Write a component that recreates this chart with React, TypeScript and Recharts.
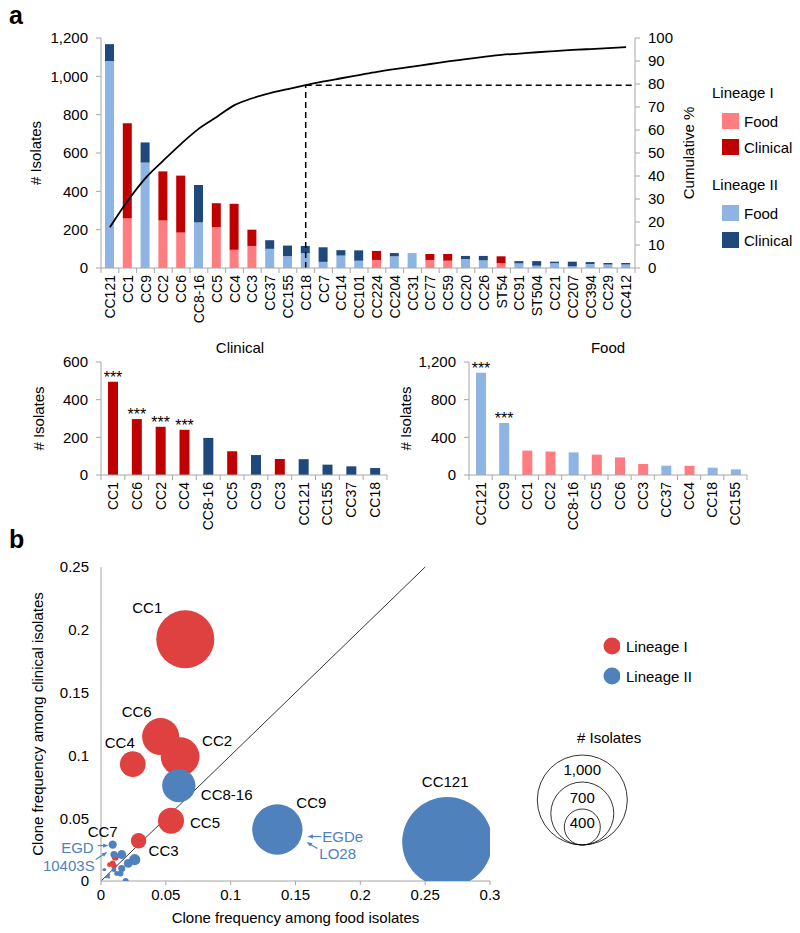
import React from 'react';
import {
  ComposedChart,
  BarChart,
  ScatterChart,
  Bar,
  Line,
  Scatter,
  XAxis,
  YAxis,
  ZAxis,
  Cell,
  LabelList,
  ReferenceLine,
} from 'recharts';

const FONT = '"Liberation Sans", Arial, sans-serif';
const AXIS = '#a6a6a6';
const RED_FOOD = '#ff7c80';
const RED_CLIN = '#c00000';
const BLUE_FOOD = '#8db4e2';
const BLUE_CLIN = '#1f497d';
const RED_BUBBLE = '#df4040';
const BLUE_BUBBLE = '#4f81bd';

// panel a, top: all clonal complexes
const ccNames = [
  'CC121', 'CC1', 'CC9', 'CC2', 'CC6', 'CC8-16', 'CC5', 'CC4', 'CC3', 'CC37',
  'CC155', 'CC18', 'CC7', 'CC14', 'CC101', 'CC224', 'CC204', 'CC31', 'CC77', 'CC59',
  'CC20', 'CC26', 'ST54', 'CC91', 'ST504', 'CC21', 'CC207', 'CC394', 'CC29', 'CC412',
];
const ccLineage = [2, 1, 2, 1, 1, 2, 1, 1, 1, 2, 2, 2, 2, 2, 2, 1, 2, 2, 1, 1, 2, 2, 1, 2, 2, 2, 2, 2, 2, 2];
const foodCounts = [1080, 260, 550, 248, 185, 238, 213, 95, 115, 100, 62, 78, 32, 65, 38, 42, 61, 78, 42, 38, 47, 40, 26, 24, 12, 25, 9, 21, 18, 18];
const clinicalCounts = [88, 495, 105, 256, 297, 195, 125, 240, 85, 45, 55, 37, 76, 28, 54, 47, 17, 0, 31, 35, 16, 23, 35, 12, 24, 8, 24, 10, 8, 8];
const cumulativePct = [
  17.7, 29.2, 39.1, 46.7, 54.0, 60.6, 65.7, 70.8, 73.8, 76.0,
  77.8, 79.5, 81.1, 82.5, 83.9, 85.3, 86.5, 87.6, 88.7, 89.8,
  90.8, 91.8, 92.7, 93.2, 93.8, 94.3, 94.8, 95.2, 95.6, 96.0,
];
const countTicks = [0, 200, 400, 600, 800, 1000, 1200];
const pctTicks = [0, 10, 20, 30, 40, 50, 60, 70, 80, 90, 100];

// panel a, bottom: top 12 per source
const clinicalTop = ['CC1', 'CC6', 'CC2', 'CC4', 'CC8-16', 'CC5', 'CC9', 'CC3', 'CC121', 'CC155', 'CC37', 'CC18'];
const clinicalTopLineage = [1, 1, 1, 1, 2, 1, 2, 1, 2, 2, 2, 2];
const clinicalTopCounts = [495, 297, 256, 240, 197, 126, 106, 85, 84, 55, 46, 37];
const clinicalTopSig = [true, true, true, true, false, false, false, false, false, false, false, false];
const clinicalTicks = [0, 100, 200, 300, 400, 500, 600];

const foodTop = ['CC121', 'CC9', 'CC1', 'CC2', 'CC8-16', 'CC5', 'CC6', 'CC3', 'CC37', 'CC4', 'CC18', 'CC155'];
const foodTopLineage = [2, 2, 1, 1, 2, 1, 1, 1, 2, 1, 2, 2];
const foodTopCounts = [1085, 552, 259, 249, 240, 216, 187, 116, 99, 97, 78, 60];
const foodTopSig = [true, true, false, false, false, false, false, false, false, false, false, false];

// panel b: clone frequency bubbles
const bubbleNames = [
  'CC1', 'CC6', 'CC2', 'CC4', 'CC5', 'CC3', 'CC224', 'CC77', 'CC59', 'ST54',
  'CC121', 'CC9', 'CC8-16', 'CC7', 'CC155', 'CC37', 'CC18', 'CC14', 'CC101', 'CC204',
  'CC31', 'CC20', 'CC26', 'CC91', 'ST504', 'CC21', 'CC207', 'CC394', 'CC29', 'CC412',
];
const bubbleLineage = [1, 1, 1, 1, 1, 1, 1, 1, 1, 1, 2, 2, 2, 2, 2, 2, 2, 2, 2, 2, 2, 2, 2, 2, 2, 2, 2, 2, 2, 2];
const bubbleFoodFreq = [
  0.065, 0.046, 0.061, 0.0245, 0.054, 0.029, 0.011, 0.010, 0.009, 0.0065,
  0.267, 0.136, 0.060, 0.009, 0.016, 0.026, 0.021, 0.016, 0.010, 0.015,
  0.019, 0.012, 0.010, 0.006, 0.003, 0.006, 0.002, 0.005, 0.004, 0.004,
];
const bubbleClinicalFreq = [
  0.1925, 0.115, 0.099, 0.093, 0.048, 0.032, 0.019, 0.012, 0.014, 0.013,
  0.031, 0.041, 0.076, 0.029, 0.021, 0.017, 0.014, 0.010, 0.021, 0.006,
  0.000, 0.006, 0.009, 0.005, 0.009, 0.003, 0.009, 0.004, 0.003, 0.003,
];
const bubbleIsolates = [
  755, 482, 503, 334, 339, 200, 89, 73, 73, 61,
  1170, 654, 433, 108, 117, 145, 115, 92, 92, 78,
  78, 63, 63, 36, 36, 33, 33, 31, 26, 26,
];
const freqXTicks = [0, 0.05, 0.1, 0.15, 0.2, 0.25, 0.3];
const freqYTicks = [0, 0.05, 0.1, 0.15, 0.2, 0.25];
const sizeLegend = [1000, 700, 400];

// bubble diameter in px per 1000 isolates
const DIAM_PER_1000 = 90;

// top chart layout
const TOP_W = 800;
const TOP_MARGIN = { top: 38, right: 105, bottom: 0, left: 41 };
const TOP_YAXIS_W = 60;
const TOP_PLOT_RIGHT = TOP_W - TOP_MARGIN.right - TOP_YAXIS_W;

// scatter layout
const SC_W = 500;
const SC_H = 383;
const SC_MARGIN = { top: 17, right: 10, bottom: 0, left: 41 };
const SC_YAXIS_W = 60;
const SC_XAXIS_H = 52;
const SC_PLOT = {
  x: SC_MARGIN.left + SC_YAXIS_W,
  y: SC_MARGIN.top,
  w: SC_W - SC_MARGIN.left - SC_YAXIS_W - SC_MARGIN.right,
  h: SC_H - SC_MARGIN.top - SC_XAXIS_H - SC_MARGIN.bottom,
};

const topData = ccNames.map((name, i) => ({
  name,
  lineage: ccLineage[i],
  food: foodCounts[i],
  clinical: clinicalCounts[i],
  cum: cumulativePct[i],
}));
const clinicalData = clinicalTop.map((name, i) => ({
  name, lineage: clinicalTopLineage[i], value: clinicalTopCounts[i], sig: clinicalTopSig[i],
}));
const foodData = foodTop.map((name, i) => ({
  name, lineage: foodTopLineage[i], value: foodTopCounts[i], sig: foodTopSig[i],
}));
const bubbles = bubbleNames.map((name, i) => ({
  name, lineage: bubbleLineage[i], x: bubbleFoodFreq[i], y: bubbleClinicalFreq[i], n: bubbleIsolates[i],
}));
const cutIndex = ccNames.indexOf('CC18');

const fmt = (v: number) => v.toLocaleString('en-US');

const CategoryTick = (props: any) => {
  const { x, y, payload, index, visibleTicksCount } = props;
  const half = payload?.offset ?? 0;
  return (
    <g>
      <line x1={x - half} x2={x - half} y1={y} y2={y + 5} stroke={AXIS} />
      {index === visibleTicksCount - 1 && (
        <line x1={x + half} x2={x + half} y1={y} y2={y + 5} stroke={AXIS} />
      )}
      <text
        x={x}
        y={y + 7}
        transform={`rotate(-90, ${x}, ${y + 7})`}
        textAnchor="end"
        dominantBaseline="central"
        fontSize={14}
        fontFamily={FONT}
        fill="#000"
      >
        {payload.value}
      </text>
    </g>
  );
};

const verticalTitle = (text: string, x: number) => (props: any) => {
  const vb = props.viewBox || {};
  const cy = vb.y + vb.height / 2;
  return (
    <text x={x} y={cy} transform={`rotate(-90, ${x}, ${cy})`} textAnchor="middle"
      dominantBaseline="central" fontSize={15} fontFamily={FONT} fill="#000">
      {text}
    </text>
  );
};

const renderStars = (props: any) => {
  const { x, y, width, value } = props;
  if (!value) return null;
  return (
    <text x={x + width / 2} y={y + 1} textAnchor="middle" fontSize={16} fontFamily={FONT} fill="#000">
      ***
    </text>
  );
};

const labelPlace: Record<string, { dx: number; dy: number; anchor: 'start' | 'middle' | 'end' }> = {
  CC1: { dx: -23, dy: -32, anchor: 'end' },
  CC6: { dx: -9, dy: -25, anchor: 'end' },
  CC4: { dx: 2, dy: -22, anchor: 'end' },
  CC2: { dx: 22, dy: -16, anchor: 'start' },
  'CC8-16': { dx: 22, dy: 9, anchor: 'start' },
  CC5: { dx: 19, dy: 2, anchor: 'start' },
  CC3: { dx: 10, dy: 10, anchor: 'start' },
  CC7: { dx: -10, dy: -13, anchor: 'middle' },
  CC9: { dx: 19, dy: -27, anchor: 'start' },
  CC121: { dx: -2, dy: -61, anchor: 'middle' },
};

const Arrow = ({ x1, y1, x2, y2 }: { x1: number; y1: number; x2: number; y2: number }) => {
  const a = Math.atan2(y2 - y1, x2 - x1);
  const h = 5;
  const p1 = [x2 - h * Math.cos(a - 0.45), y2 - h * Math.sin(a - 0.45)];
  const p2 = [x2 - h * Math.cos(a + 0.45), y2 - h * Math.sin(a + 0.45)];
  return (
    <g>
      <line x1={x1} y1={y1} x2={x2} y2={y2} stroke={BLUE_BUBBLE} strokeWidth={1.2} />
      <polygon points={`${x2},${y2} ${p1[0]},${p1[1]} ${p2[0]},${p2[1]}`} fill={BLUE_BUBBLE} />
    </g>
  );
};

const strainText = (x: number, y: number, anchor: string, text: string) => (
  <text x={x} y={y} textAnchor={anchor} dominantBaseline="central" fontSize={15} fontFamily={FONT} fill={BLUE_BUBBLE}>
    {text}
  </text>
);

const renderBubbleLabel = (props: any) => {
  const { value } = props;
  const vb = props.viewBox && props.viewBox.width !== undefined ? props.viewBox : props;
  const cx = vb.x + vb.width / 2;
  const cy = vb.y + vb.height / 2;
  const place = labelPlace[value];
  if (!place) return null;
  return (
    <g>
      <text x={cx + place.dx} y={cy + place.dy} textAnchor={place.anchor} dominantBaseline="central"
        fontSize={15} fontFamily={FONT} fill="#000">
        {value}
      </text>
      {value === 'CC9' && (
        <g>
          <Arrow x1={cx + 44} y1={cy + 7} x2={cx + 31} y2={cy + 7} />
          {strainText(cx + 45, cy + 7, 'start', 'EGDe')}
          <Arrow x1={cx + 40} y1={cy + 19} x2={cx + 30} y2={cy + 13} />
          {strainText(cx + 42, cy + 24, 'start', 'LO28')}
        </g>
      )}
      {value === 'CC7' && (
        <g>
          {strainText(cx - 19, cy + 3, 'end', 'EGD')}
          <Arrow x1={cx - 15} y1={cy + 1} x2={cx - 5} y2={cy + 1} />
          {strainText(cx - 18, cy + 21, 'end', '10403S')}
          <Arrow x1={cx - 17} y1={cy + 15} x2={cx - 6} y2={cy + 8} />
        </g>
      )}
    </g>
  );
};

// bubbles are cut at the plot edges, like the x axis cutting CC121
const bubbleShape = (props: any) => {
  const id = `bclip-${Math.round(props.cx)}-${Math.round(props.cy)}`;
  return (
    <g>
      <defs>
        <clipPath id={id}>
          <rect x={SC_PLOT.x} y={SC_PLOT.y} width={SC_PLOT.w} height={SC_PLOT.h} />
        </clipPath>
      </defs>
      <circle cx={props.cx} cy={props.cy} r={Math.max(props.size, 0) / 2} fill={props.fill}
        clipPath={`url(#${id})`} />
    </g>
  );
};

// 80% guide runs on to the right axis
const guideToAxis = (props: any) => (
  <line x1={props.x1} y1={props.y1} x2={TOP_PLOT_RIGHT} y2={props.y2} stroke="#000"
    strokeWidth={1.5} strokeDasharray="6 4" />
);

const abs = (left: number, top: number, extra: React.CSSProperties = {}): React.CSSProperties => ({
  position: 'absolute', left, top, lineHeight: '15px', fontSize: 15, whiteSpace: 'nowrap', ...extra,
});

const Swatch = ({ left, top, color, label }: { left: number; top: number; color: string; label: string }) => (
  <>
    <div style={{ position: 'absolute', left, top, width: 17, height: 16, background: color }} />
    <div style={abs(left + 22, top + 1)}>{label}</div>
  </>
);

export default function App() {
  return (
    <div style={{ position: 'absolute', left: 0, top: 0, width: 800, height: 933, background: '#fff', fontFamily: FONT, color: '#000' }}>
      <div style={abs(9, 3, { fontSize: 25, fontWeight: 'bold', lineHeight: '25px' })}>a</div>
      <div style={abs(9, 527, { fontSize: 25, fontWeight: 'bold', lineHeight: '25px' })}>b</div>

      <div style={{ position: 'absolute', left: 0, top: 0 }}>
        <ComposedChart width={TOP_W} height={330} data={topData} margin={TOP_MARGIN}>
          <XAxis dataKey="name" interval={0} height={62} axisLine={{ stroke: AXIS }} tickLine={false}
            tickSize={0} tickMargin={0} tick={<CategoryTick />} />
          <YAxis yAxisId="left" width={TOP_YAXIS_W} domain={[0, 1200]} ticks={countTicks} tickFormatter={fmt}
            axisLine={{ stroke: AXIS }} tickLine={{ stroke: AXIS }} tickSize={5} tickMargin={8}
            tick={{ fontSize: 15, fill: '#000', fontFamily: FONT }}
            label={{ content: verticalTitle('# Isolates', 35) }} />
          <YAxis yAxisId="right" orientation="right" width={TOP_YAXIS_W} domain={[0, 100]} ticks={pctTicks}
            axisLine={{ stroke: AXIS }} tickLine={{ stroke: AXIS }} tickSize={5} tickMargin={8}
            tick={{ fontSize: 15, fill: '#000', fontFamily: FONT }}
            label={{ content: verticalTitle('Cumulative %', 688) }} />
          <Bar yAxisId="left" dataKey="food" stackId="a" barSize={9} isAnimationActive={false}>
            {topData.map((d) => (
              <Cell key={d.name} fill={d.lineage === 1 ? RED_FOOD : BLUE_FOOD} />
            ))}
          </Bar>
          <Bar yAxisId="left" dataKey="clinical" stackId="a" barSize={9} isAnimationActive={false}>
            {topData.map((d) => (
              <Cell key={d.name} fill={d.lineage === 1 ? RED_CLIN : BLUE_CLIN} />
            ))}
          </Bar>
          <Line yAxisId="right" dataKey="cum" type="monotone" stroke="#000" strokeWidth={1.8}
            dot={false} isAnimationActive={false} />
          <ReferenceLine yAxisId="right"
            segment={[{ x: ccNames[cutIndex], y: 0 }, { x: ccNames[cutIndex], y: cumulativePct[cutIndex] }]}
            stroke="#000" strokeWidth={1.5} strokeDasharray="6 4" />
          <ReferenceLine yAxisId="right"
            segment={[{ x: ccNames[cutIndex], y: cumulativePct[cutIndex] }, { x: ccNames[ccNames.length - 1], y: cumulativePct[cutIndex] }]}
            shape={guideToAxis} />
        </ComposedChart>
      </div>

      <div style={abs(712, 85)}>Lineage I</div>
      <Swatch left={722} top={113} color={RED_FOOD} label="Food" />
      <Swatch left={722} top={139} color={RED_CLIN} label="Clinical" />
      <div style={abs(712, 177)}>Lineage II</div>
      <Swatch left={722} top={205} color={BLUE_FOOD} label="Food" />
      <Swatch left={722} top={232} color={BLUE_CLIN} label="Clinical" />

      <div style={abs(190, 340, { width: 100, textAlign: 'center' })}>Clinical</div>
      <div style={{ position: 'absolute', left: 0, top: 340 }}>
        <BarChart width={400} height={200} data={clinicalData} margin={{ top: 22, right: 13, bottom: 0, left: 46 }}>
          <XAxis dataKey="name" interval={0} height={65} axisLine={{ stroke: AXIS }} tickLine={false}
            tickSize={0} tickMargin={0} tick={<CategoryTick />} />
          <YAxis width={55} domain={[0, 600]} ticks={clinicalTicks} axisLine={{ stroke: AXIS }}
            tickLine={{ stroke: AXIS }} tickSize={5} tickMargin={8}
            tick={{ fontSize: 15, fill: '#000', fontFamily: FONT }}
            label={{ content: verticalTitle('# Isolates', 38) }} />
          <Bar dataKey="value" barSize={10} isAnimationActive={false}>
            {clinicalData.map((d) => (
              <Cell key={d.name} fill={d.lineage === 1 ? RED_CLIN : BLUE_CLIN} />
            ))}
            <LabelList dataKey="sig" content={renderStars} />
          </Bar>
        </BarChart>
      </div>

      <div style={abs(558, 340, { width: 100, textAlign: 'center' })}>Food</div>
      <div style={{ position: 'absolute', left: 390, top: 340 }}>
        <BarChart width={400} height={200} data={foodData} margin={{ top: 22, right: 43, bottom: 0, left: 19 }}>
          <XAxis dataKey="name" interval={0} height={65} axisLine={{ stroke: AXIS }} tickLine={false}
            tickSize={0} tickMargin={0} tick={<CategoryTick />} />
          <YAxis width={60} domain={[0, 1200]} ticks={countTicks} tickFormatter={fmt} axisLine={{ stroke: AXIS }}
            tickLine={{ stroke: AXIS }} tickSize={5} tickMargin={8}
            tick={{ fontSize: 15, fill: '#000', fontFamily: FONT }}
            label={{ content: verticalTitle('# Isolates', 15) }} />
          <Bar dataKey="value" barSize={10} isAnimationActive={false}>
            {foodData.map((d) => (
              <Cell key={d.name} fill={d.lineage === 1 ? RED_FOOD : BLUE_FOOD} />
            ))}
            <LabelList dataKey="sig" content={renderStars} />
          </Bar>
        </BarChart>
      </div>

      <div style={{ position: 'absolute', left: 0, top: 550 }}>
        <ScatterChart width={SC_W} height={SC_H} margin={SC_MARGIN}>
          <XAxis type="number" dataKey="x" domain={[0, 0.3]} ticks={freqXTicks} allowDataOverflow
            height={SC_XAXIS_H} axisLine={{ stroke: AXIS }} tickLine={{ stroke: AXIS }} tickSize={4} tickMargin={4}
            tick={{ fontSize: 15, fill: '#000', fontFamily: FONT }}
            label={{
              content: (p: any) => (
                <text x={p.viewBox.x + p.viewBox.width / 2} y={p.viewBox.y + 36} textAnchor="middle"
                  dominantBaseline="central" fontSize={15} fontFamily={FONT} fill="#000">
                  Clone frequency among food isolates
                </text>
              ),
            }} />
          <YAxis type="number" dataKey="y" domain={[0, 0.25]} ticks={freqYTicks} allowDataOverflow width={SC_YAXIS_W}
            axisLine={{ stroke: AXIS }} tickLine={false} tickSize={6} tickMargin={6}
            tick={{ fontSize: 15, fill: '#000', fontFamily: FONT }}
            label={{ content: verticalTitle('Clone frequency among clinical isolates', 37) }} />
          <ZAxis type="number" dataKey="n" domain={[0, 1000]} range={[0, DIAM_PER_1000]} />
          <Scatter name="Lineage I" data={bubbles.filter((b) => b.lineage === 1)} fill={RED_BUBBLE}
            shape={bubbleShape} isAnimationActive={false}>
            <LabelList dataKey="name" content={renderBubbleLabel} />
          </Scatter>
          <Scatter name="Lineage II" data={bubbles.filter((b) => b.lineage === 2)} fill={BLUE_BUBBLE}
            shape={bubbleShape} isAnimationActive={false}>
            <LabelList dataKey="name" content={renderBubbleLabel} />
          </Scatter>
          <ReferenceLine segment={[{ x: 0, y: 0 }, { x: 0.25, y: 0.25 }]} stroke="#000" strokeWidth={0.8} />
        </ScatterChart>
      </div>

      <svg style={{ position: 'absolute', left: 600, top: 635 }} width={20} height={50}>
        <circle cx={12} cy={11} r={8.5} fill={RED_BUBBLE} />
        <circle cx={12} cy={41} r={8.5} fill={BLUE_BUBBLE} />
      </svg>
      <div style={abs(626, 639)}>Lineage I</div>
      <div style={abs(626, 669)}>Lineage II</div>

      <div style={abs(577, 730)}># Isolates</div>
      <svg style={{ position: 'absolute', left: 530, top: 745 }} width={110} height={105}>
        {sizeLegend.map((n) => {
          const r = (n / 1000) * DIAM_PER_1000 / 2;
          return <circle key={n} cx={52.3} cy={100 - r} r={r} fill="none" stroke="#000" strokeWidth={0.8} />;
        })}
        {sizeLegend.map((n, i) => (
          <text key={n} x={52.3} y={[24, 52, 77][i]} textAnchor="middle" dominantBaseline="central"
            fontSize={15} fontFamily={FONT} fill="#000">
            {fmt(n)}
          </text>
        ))}
      </svg>
    </div>
  );
}
